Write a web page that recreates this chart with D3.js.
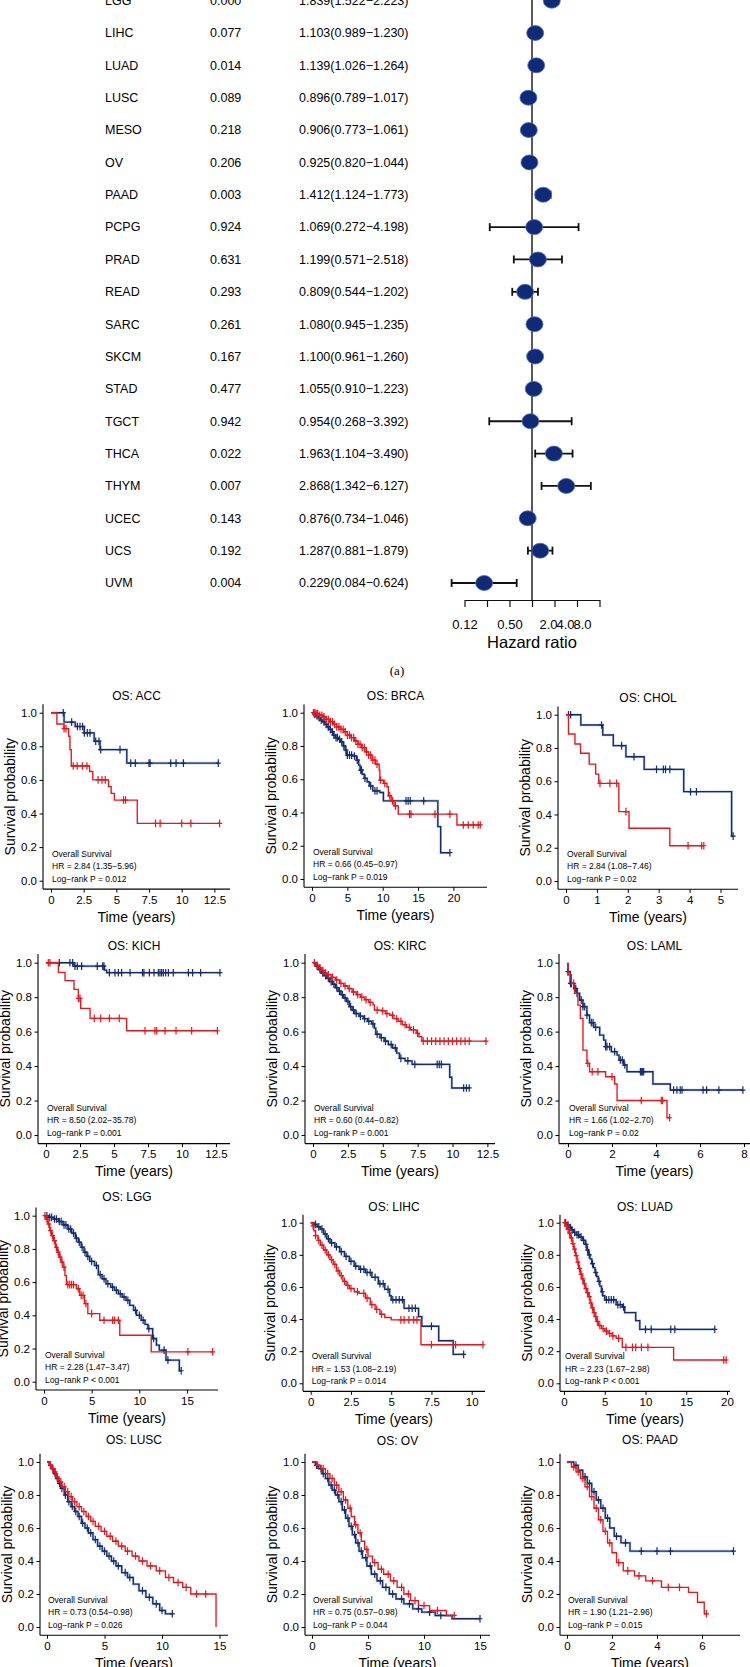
<!DOCTYPE html>
<html><head><meta charset="utf-8">
<script src="https://cdn.jsdelivr.net/npm/d3@7"></script>
<style>body{margin:0;background:#fff} svg{display:block} text{font-family:"Liberation Sans",Arial,Helvetica,sans-serif;fill:#000}</style>
</head><body><svg id="c" width="750" height="1667"></svg>
<script>
// ---------------- Forest plot data ----------------
const forestCancers = ["LGG","LIHC","LUAD","LUSC","MESO","OV","PAAD","PCPG","PRAD","READ","SARC","SKCM","STAD","TGCT","THCA","THYM","UCEC","UCS","UVM"];
const forestP = ["0.000","0.077","0.014","0.089","0.218","0.206","0.003","0.924","0.631","0.293","0.261","0.167","0.477","0.942","0.022","0.007","0.143","0.192","0.004"];
const forestHR = [1.839,1.103,1.139,0.896,0.906,0.925,1.412,1.069,1.199,0.809,1.080,1.100,1.055,0.954,1.963,2.868,0.876,1.287,0.229];
const forestLow = [1.522,0.989,1.026,0.789,0.773,0.820,1.124,0.272,0.571,0.544,0.945,0.961,0.910,0.268,1.104,1.342,0.734,0.881,0.084];
const forestHigh = [2.223,1.230,1.264,1.017,1.061,1.044,1.773,4.198,2.518,1.202,1.235,1.260,1.223,3.392,3.490,6.127,1.046,1.879,0.624];
const forestTicks = [0.125,0.25,0.5,1,2,4,8];
const forestTickLabels = ["0.12","","0.50","","2.0","4.0","8.0"];

// ---------------- Kaplan-Meier panels ----------------
const kmPanels = ["ACC","BRCA","CHOL","KICH","KIRC","LAML","LGG","LIHC","LUAD","LUSC","OV","PAAD"];
const kmHR = ["2.84 (1.35\u22125.96)","0.66 (0.45\u22120.97)","2.84 (1.08\u22127.46)","8.50 (2.02\u221235.78)","0.60 (0.44\u22120.82)","1.66 (1.02\u22122.70)","2.28 (1.47\u22123.47)","1.53 (1.08\u22122.19)","2.23 (1.67\u22122.98)","0.73 (0.54\u22120.98)","0.75 (0.57\u22120.98)","1.90 (1.21\u22122.96)"];
const kmP = ["= 0.012","= 0.019","= 0.02","= 0.001","= 0.001","= 0.02","< 0.001","= 0.014","< 0.001","= 0.026","= 0.044","= 0.015"];
const kmXTicks = [[0,2.5,5,7.5,10,12.5],[0,5,10,15,20],[0,1,2,3,4,5],[0,2.5,5,7.5,10,12.5],[0,2.5,5,7.5,10,12.5],[0,2,4,6,8],[0,5,10,15],[0,2.5,5,7.5,10],[0,5,10,15,20],[0,5,10,15],[0,5,10,15],[0,2,4,6]];
const kmYTicks = [0,0.2,0.4,0.6,0.8,1.0];

// steps: [time, survival after event]; censors: times
const ACC_blue = [[1.0,0.944],[1.85,0.918],[2.55,0.88],[3.3,0.83],[3.75,0.78],[5.8,0.70]];
const ACC_blueCens = [0.94,1.58,2.02,2.22,2.42,2.55,2.78,2.98,3.42,3.67,3.8,5.28,6.1,6.45,7.5,7.58,9.16,9.57,10.13,12.8];
const ACC_red = [[0.45,0.933],[1.0,0.905],[1.35,0.86],[1.45,0.78],[1.55,0.683],[2.95,0.65],[3.2,0.60],[4.4,0.56],[4.6,0.52],[4.85,0.48],[6.6,0.341]];
const ACC_redCens = [1.0,1.15,1.7,2.0,2.4,2.75,3.6,3.9,4.15,5.55,5.7,8.0,8.35,10.0,10.7,12.9];

const BRCA_blue = [[0.3,0.99],[0.6,0.98],[0.9,0.97],[1.2,0.955],[1.5,0.945],[1.8,0.93],[2.1,0.915],[2.4,0.90],[2.7,0.885],[3.0,0.865],[3.3,0.85],[3.7,0.84],[4.0,0.825],[4.4,0.80],[4.7,0.775],[4.9,0.745],[5.8,0.74],[6.3,0.715],[6.6,0.685],[6.8,0.655],[7.1,0.63],[7.4,0.605],[7.8,0.585],[8.1,0.56],[8.6,0.53],[9.6,0.52],[10.1,0.47],[17.8,0.315],[18.2,0.158]];
const BRCA_blueCens = [0.4,0.7,1.0,1.3,1.7,2.0,2.3,2.6,2.9,3.1,3.4,3.6,3.9,4.2,4.5,4.8,5.0,5.3,5.6,6.0,6.4,6.9,7.0,7.5,8.3,8.9,9.2,13.3,13.6,13.9,15.8,19.5];
const BRCA_red = [[0.5,0.995],[1.0,0.985],[1.5,0.975],[2.0,0.96],[2.5,0.945],[3.0,0.93],[3.5,0.915],[4.0,0.90],[4.5,0.885],[5.0,0.865],[5.5,0.85],[6.0,0.83],[6.5,0.81],[7.0,0.79],[7.5,0.765],[8.0,0.745],[8.5,0.715],[9.0,0.69],[9.5,0.655],[9.6,0.595],[10.1,0.575],[10.6,0.555],[10.8,0.50],[11.2,0.47],[11.6,0.44],[12.2,0.39],[20.5,0.325]];
const BRCA_redCens = [0.2,0.4,0.6,0.8,1.1,1.4,1.7,2.0,2.3,2.6,2.9,3.2,3.5,3.8,4.1,4.4,4.7,5.0,5.3,5.6,5.9,6.2,6.5,6.8,7.1,7.4,7.7,8.0,8.3,8.6,8.9,9.2,9.7,10.3,11.0,11.4,11.8,13.8,14.0,17.4,19.5,21.4,22.1,22.8,23.5,23.8];

const CHOL_blue = [[0.48,0.938],[1.19,0.878],[1.53,0.814],[1.94,0.747],[2.53,0.671],[3.81,0.537],[5.36,0.27]];
const CHOL_blueCens = [0.08,0.15,1.15,1.8,2.2,2.93,3.15,3.22,3.36,4.03,4.22,5.41];
const CHOL_red = [[0.08,0.884],[0.29,0.824],[0.47,0.768],[0.75,0.703],[0.96,0.643],[1.06,0.587],[1.71,0.417],[2.04,0.317],[3.36,0.212]];
const CHOL_redCens = [1.1,1.42,1.64,1.94,3.95,4.39,4.46];

const KICH_blue = [[2.06,0.98],[4.29,0.957],[4.46,0.942]];
const KICH_blueCens = [0.98,1.76,1.96,2.13,2.3,2.62,3.77,4.17,4.26,4.66,5.07,5.32,5.56,6.18,7.1,7.2,7.6,7.94,8.26,8.38,8.5,8.63,8.8,9.0,9.36,10.47,10.78,11.37,12.79];
const KICH_red = [[0.91,0.944],[1.4,0.896],[2.06,0.845],[2.38,0.793],[2.55,0.735],[3.24,0.677],[5.93,0.605]];
const KICH_redCens = [0.17,0.29,2.38,2.5,3.55,4.02,4.66,5.39,7.28,8.01,8.14,8.75,9.56,10.71,12.6];

const KIRC_blue = [[0.2,0.98],[0.4,0.96],[0.6,0.94],[0.8,0.925],[1.0,0.91],[1.2,0.89],[1.4,0.875],[1.6,0.855],[1.8,0.835],[2.0,0.815],[2.2,0.795],[2.4,0.775],[2.6,0.745],[2.8,0.725],[3.0,0.705],[3.3,0.69],[3.6,0.675],[3.9,0.66],[4.2,0.645],[4.4,0.62],[4.5,0.585],[4.8,0.565],[5.1,0.545],[5.4,0.525],[5.7,0.505],[6.0,0.475],[6.2,0.445],[6.6,0.43],[7.1,0.41],[9.8,0.335],[9.95,0.273]];
const KIRC_blueCens = [0.3,0.5,0.7,0.9,1.1,1.3,1.5,1.7,1.9,2.1,2.3,2.5,2.7,2.9,3.1,3.4,3.7,4.0,4.3,4.6,4.9,5.2,5.6,5.9,6.3,6.8,7.3,8.9,9.05,9.2,10.8,11.0,11.2];
const KIRC_red = [[0.2,0.985],[0.4,0.97],[0.6,0.955],[0.8,0.94],[1.0,0.93],[1.3,0.915],[1.6,0.90],[1.9,0.88],[2.2,0.865],[2.5,0.85],[2.8,0.83],[3.1,0.815],[3.4,0.80],[3.7,0.785],[4.0,0.77],[4.3,0.755],[4.4,0.725],[4.9,0.72],[5.2,0.705],[5.5,0.695],[5.8,0.675],[6.1,0.66],[6.4,0.64],[6.7,0.625],[7.0,0.61],[7.4,0.59],[7.6,0.57],[7.8,0.545]];
const KIRC_redCens = [0.1,0.3,0.5,0.7,0.9,1.1,1.4,1.7,2.0,2.3,2.6,2.9,3.2,3.5,3.8,4.1,4.6,5.0,5.3,5.7,6.0,6.3,6.6,6.9,7.2,7.5,7.9,8.2,8.5,8.8,9.1,9.4,9.7,10.0,10.3,10.6,10.9,11.2,12.4];

const LAML_blue = [[0.0,0.948],[0.1,0.88],[0.26,0.85],[0.41,0.822],[0.53,0.783],[0.68,0.745],[0.86,0.696],[0.98,0.652],[1.17,0.625],[1.44,0.58],[1.62,0.551],[1.71,0.513],[1.97,0.484],[2.23,0.464],[2.32,0.435],[2.53,0.406],[2.68,0.367],[3.86,0.296],[4.65,0.261]];
const LAML_blueCens = [0.0,0.11,0.15,0.35,0.41,0.6,0.68,0.76,0.86,1.06,1.14,1.26,1.71,1.77,1.89,2.12,2.38,2.47,2.58,3.29,3.33,3.38,3.44,4.8,4.95,5.1,5.18,6.14,6.3,6.86,7.95];
const LAML_red = [[0.0,0.93],[0.15,0.88],[0.3,0.822],[0.45,0.754],[0.56,0.677],[0.68,0.493],[0.86,0.416],[0.98,0.367],[1.71,0.338],[2.12,0.296],[2.23,0.2],[4.5,0.1]];
const LAML_redCens = [0.26,0.9,1.1,1.36,2.0,3.33,4.24,4.3,4.62];

const LGG_blue = [[0.5,0.99],[1.0,0.98],[1.5,0.965],[2.0,0.945],[2.5,0.92],[2.9,0.895],[3.3,0.865],[3.6,0.84],[3.9,0.81],[4.2,0.78],[4.5,0.755],[4.8,0.725],[5.3,0.70],[5.7,0.645],[6.1,0.62],[6.5,0.59],[7.0,0.57],[7.4,0.55],[7.8,0.53],[8.2,0.51],[8.6,0.49],[9.0,0.46],[9.4,0.43],[9.7,0.40],[10.2,0.37],[10.6,0.345],[10.9,0.32],[11.4,0.26],[11.8,0.22],[12.1,0.19],[12.8,0.13],[14.2,0.066]];
const LGG_blueCens = [0.3,0.6,0.8,1.1,1.3,1.6,1.8,2.1,2.3,2.6,2.8,3.1,3.4,3.7,4.0,4.3,4.6,5.0,5.5,5.9,6.3,6.7,7.2,7.6,8.0,8.4,8.8,9.6,10.0,10.4,11.0,11.5,12.6,13.0,14.4];
const LGG_red = [[0.2,0.98],[0.4,0.95],[0.6,0.91],[0.8,0.88],[1.0,0.85],[1.2,0.81],[1.4,0.78],[1.6,0.75],[1.8,0.72],[2.0,0.69],[2.2,0.64],[2.35,0.585],[3.4,0.56],[3.75,0.52],[4.25,0.47],[4.6,0.41],[5.85,0.37],[7.95,0.28],[11.25,0.18]];
const LGG_redCens = [0.1,0.3,0.5,0.7,0.9,1.1,1.3,1.5,1.7,1.9,2.1,2.5,2.7,2.9,3.1,3.6,3.9,4.1,4.4,5.0,6.3,7.2,7.4,7.8,15.1,17.7];

const LIHC_blue = [[0.2,0.99],[0.4,0.975],[0.6,0.96],[0.8,0.93],[1.0,0.90],[1.2,0.875],[1.5,0.85],[1.8,0.82],[2.1,0.79],[2.4,0.76],[2.7,0.73],[3.0,0.71],[3.4,0.69],[3.8,0.66],[4.2,0.62],[4.6,0.585],[4.9,0.545],[5.0,0.52],[5.8,0.467],[6.7,0.415],[6.9,0.355],[7.95,0.265],[8.85,0.18]];
const LIHC_blueCens = [0.3,0.5,0.7,0.9,1.1,1.3,1.6,1.9,2.2,2.5,2.8,3.1,3.3,3.5,3.7,4.0,4.3,4.5,4.8,5.1,5.3,5.5,5.7,6.1,6.3,6.5,7.5,9.5];
const LIHC_red = [[0.1,0.98],[0.2,0.95],[0.3,0.92],[0.45,0.89],[0.6,0.86],[0.8,0.83],[1.0,0.80],[1.2,0.77],[1.4,0.74],[1.6,0.70],[1.8,0.67],[2.0,0.635],[2.2,0.61],[2.4,0.59],[2.7,0.57],[3.0,0.56],[3.4,0.53],[3.7,0.49],[4.0,0.46],[4.3,0.43],[4.6,0.41],[5.0,0.395],[6.85,0.24]];
const LIHC_redCens = [0.15,0.3,0.5,0.7,0.9,1.1,1.3,1.5,1.7,1.9,2.1,2.3,2.5,2.9,3.3,3.5,3.8,4.1,4.4,5.6,5.8,6.1,6.4,6.6,7.5,9.0,10.7];

const LUAD_blue = [[0.3,0.985],[0.6,0.97],[0.9,0.955],[1.2,0.94],[1.5,0.925],[1.9,0.91],[2.3,0.89],[2.6,0.865],[2.8,0.83],[3.0,0.80],[3.2,0.775],[3.4,0.745],[3.6,0.72],[3.8,0.69],[4.0,0.665],[4.2,0.635],[4.4,0.605],[4.6,0.57],[4.75,0.545],[5.0,0.52],[6.4,0.49],[7.15,0.475],[7.45,0.44],[8.8,0.39],[9.3,0.336]];
const LUAD_blueCens = [0.2,0.5,0.8,1.0,1.3,1.6,1.8,2.1,2.4,2.7,2.9,3.1,3.5,3.9,4.3,4.7,5.2,5.5,5.8,6.1,6.6,6.9,7.3,10.0,10.7,13.1,13.6,18.5];
const LUAD_red = [[0.2,0.98],[0.4,0.96],[0.6,0.935],[0.8,0.905],[1.0,0.87],[1.2,0.835],[1.4,0.795],[1.6,0.755],[1.8,0.715],[2.0,0.68],[2.2,0.65],[2.4,0.62],[2.6,0.59],[2.8,0.565],[3.0,0.54],[3.2,0.50],[3.4,0.47],[3.6,0.44],[3.8,0.415],[4.0,0.385],[4.2,0.36],[4.6,0.34],[5.0,0.325],[5.4,0.31],[5.9,0.295],[6.4,0.28],[7.15,0.224],[13.45,0.145]];
const LUAD_redCens = [0.1,0.3,0.5,0.7,0.9,1.1,1.3,1.5,1.7,1.9,2.1,2.3,2.5,2.7,2.9,3.1,3.3,3.5,3.7,3.9,4.1,4.4,4.8,5.2,5.6,6.0,6.7,7.6,8.4,8.8,9.5,10.3,19.6,19.9];

const LUSC_blue = [[0.2,0.98],[0.4,0.96],[0.6,0.93],[0.8,0.90],[1.0,0.87],[1.2,0.84],[1.5,0.80],[1.8,0.76],[2.1,0.73],[2.4,0.70],[2.7,0.67],[3.0,0.63],[3.3,0.60],[3.6,0.57],[4.0,0.53],[4.4,0.49],[4.8,0.46],[5.2,0.43],[5.6,0.40],[6.0,0.37],[6.5,0.33],[7.0,0.30],[7.5,0.26],[8.0,0.22],[8.6,0.18],[9.2,0.14],[9.8,0.10],[10.3,0.08]];
const LUSC_blueCens = [0.3,0.5,0.7,0.9,1.1,1.3,1.6,1.9,2.2,2.5,2.8,3.1,3.5,3.8,4.2,4.6,5.0,5.4,5.8,6.2,6.8,7.2,8.3,8.9,9.5,10.0,10.9];
const LUSC_red = [[0.2,0.98],[0.4,0.96],[0.6,0.94],[0.8,0.91],[1.0,0.88],[1.3,0.85],[1.6,0.82],[1.9,0.79],[2.2,0.76],[2.6,0.73],[3.0,0.70],[3.4,0.67],[3.8,0.64],[4.2,0.61],[4.7,0.58],[5.2,0.55],[5.7,0.52],[6.2,0.49],[6.8,0.46],[7.4,0.43],[8.0,0.40],[8.7,0.37],[9.5,0.34],[10.3,0.30],[11.0,0.27],[11.8,0.24],[12.5,0.20],[14.7,0.0]];
const LUSC_redCens = [0.3,0.5,0.7,0.9,1.2,1.5,1.8,2.1,2.4,2.8,3.2,3.6,4.0,4.5,5.0,5.5,6.0,6.5,7.0,7.7,8.3,9.0,9.8,10.6,11.4,12.1,13.0,13.8];

const OV_blue = [[0.3,0.98],[0.6,0.96],[0.9,0.93],[1.2,0.90],[1.5,0.86],[1.8,0.83],[2.1,0.80],[2.4,0.76],[2.7,0.71],[3.0,0.66],[3.3,0.61],[3.6,0.56],[3.9,0.51],[4.2,0.46],[4.5,0.42],[4.9,0.37],[5.3,0.32],[5.8,0.28],[6.3,0.24],[6.9,0.20],[7.5,0.17],[8.2,0.14],[9.0,0.11],[9.8,0.09],[11.0,0.07],[12.5,0.05]];
const OV_blueCens = [0.4,0.8,1.0,1.4,1.7,2.0,2.3,2.6,2.9,3.2,3.5,3.8,4.1,4.4,4.8,5.2,5.6,6.1,6.6,7.2,8.0,8.7,9.5,10.5,11.5,15.0];
const OV_red = [[0.4,0.98],[0.8,0.96],[1.2,0.93],[1.6,0.90],[2.0,0.86],[2.4,0.82],[2.8,0.77],[3.2,0.72],[3.5,0.67],[3.8,0.62],[4.1,0.57],[4.4,0.52],[4.7,0.47],[5.0,0.43],[5.4,0.39],[5.9,0.35],[6.4,0.32],[7.0,0.28],[7.6,0.24],[8.2,0.20],[8.8,0.16],[9.5,0.13],[10.5,0.10],[12.0,0.07]];
const OV_redCens = [0.5,1.0,1.4,1.8,2.2,2.6,3.0,3.4,3.9,4.3,4.9,5.6,6.2,6.8,7.3,8.0,8.6,9.2,10.0,11.2,12.7];

const PAAD_blue = [[0.3,0.98],[0.5,0.95],[0.7,0.91],[0.9,0.87],[1.1,0.82],[1.3,0.77],[1.5,0.72],[1.7,0.66],[1.9,0.60],[2.1,0.55],[2.4,0.51],[2.8,0.46]];
const PAAD_blueCens = [0.4,0.8,1.0,1.2,1.4,1.6,1.8,2.2,2.6,3.3,4.0,4.6,7.4];
const PAAD_red = [[0.2,0.97],[0.4,0.94],[0.6,0.90],[0.8,0.85],[1.0,0.79],[1.2,0.72],[1.4,0.65],[1.6,0.58],[1.8,0.51],[2.0,0.45],[2.2,0.39],[2.5,0.34],[3.0,0.31],[3.5,0.28],[4.2,0.24],[5.4,0.21],[5.8,0.15],[6.1,0.08]];
const PAAD_redCens = [0.3,0.5,0.7,0.9,1.1,1.3,1.5,1.7,1.9,2.3,2.7,3.2,3.8,4.5,5.0,6.2];

const kmBlue = {ACC:ACC_blue,BRCA:BRCA_blue,CHOL:CHOL_blue,KICH:KICH_blue,KIRC:KIRC_blue,LAML:LAML_blue,LGG:LGG_blue,LIHC:LIHC_blue,LUAD:LUAD_blue,LUSC:LUSC_blue,OV:OV_blue,PAAD:PAAD_blue};
const kmBlueCens = {ACC:ACC_blueCens,BRCA:BRCA_blueCens,CHOL:CHOL_blueCens,KICH:KICH_blueCens,KIRC:KIRC_blueCens,LAML:LAML_blueCens,LGG:LGG_blueCens,LIHC:LIHC_blueCens,LUAD:LUAD_blueCens,LUSC:LUSC_blueCens,OV:OV_blueCens,PAAD:PAAD_blueCens};
const kmRed = {ACC:ACC_red,BRCA:BRCA_red,CHOL:CHOL_red,KICH:KICH_red,KIRC:KIRC_red,LAML:LAML_red,LGG:LGG_red,LIHC:LIHC_red,LUAD:LUAD_red,LUSC:LUSC_red,OV:OV_red,PAAD:PAAD_red};
const kmRedCens = {ACC:ACC_redCens,BRCA:BRCA_redCens,CHOL:CHOL_redCens,KICH:KICH_redCens,KIRC:KIRC_redCens,LAML:LAML_redCens,LGG:LGG_redCens,LIHC:LIHC_redCens,LUAD:LUAD_redCens,LUSC:LUSC_redCens,OV:OV_redCens,PAAD:PAAD_redCens};

// ---------------- layout (pixels) ----------------
const kmLayout = [
  {ax:43, x0:51, u:13.07, y1:712.7, y0:880.7, xr:230, ty:696},
  {ax:304,x0:312,u:7.07, y1:712.7, y0:879, xr:487, ty:696},
  {ax:558,x0:566,u:30.9, y1:714.7, y0:881, xr:738, ty:698},
  {ax:38, x0:46, u:13.6, y1:962.7, y0:1135, xr:230, ty:946},
  {ax:305,x0:313,u:13.95,y1:962.7, y0:1135, xr:495, ty:946},
  {ax:559,x0:568,u:22,   y1:962.7, y0:1135, xr:750, ty:946},
  {ax:36, x0:44, u:9.53, y1:1215.7,y0:1381.7,xr:218, ty:1197},
  {ax:303,x0:310.7,u:16.1,y1:1222.7,y0:1383.3,xr:485, ty:1207},
  {ax:560,x0:564,u:8.15, y1:1222.7,y0:1383.3,xr:730, ty:1207},
  {ax:40, x0:47, u:11.5, y1:1462, y0:1627, xr:228, ty:1440},
  {ax:305,x0:312,u:11.2, y1:1462, y0:1627, xr:490, ty:1441},
  {ax:560,x0:567,u:22.5, y1:1462, y0:1627, xr:740, ty:1440}
];

const BLUE = "#142c6c", BLUE_GLOW = "#86a8d8", RED = "#e8151b";
const svg = d3.select("#c");

// ---------------- Forest plot ----------------
(function(){
  const g = svg.append("g");
  const x = d3.scaleLog().base(2).domain([0.125, 8]).range([464.5, 599.5]);
  const y = d3.scaleLinear().domain([1, 18]).range([33, 583]);
  const axisY = 600;
  const labelX = 105, pX = 210, hrX = 299;
  const fmt = d3.format(".3f");
  g.append("line").attr("x1", x(1)).attr("x2", x(1)).attr("y1", 0).attr("y2", axisY)
    .attr("stroke", "#222").attr("stroke-width", 1.5);
  forestCancers.forEach((c, i) => {
    const yy = y(i);
    g.append("text").attr("x", labelX).attr("y", yy).attr("dy", "0.35em").attr("font-size", 12.5).text(c);
    g.append("text").attr("x", pX).attr("y", yy).attr("dy", "0.35em").attr("font-size", 12.5).text(forestP[i]);
    g.append("text").attr("x", hrX).attr("y", yy).attr("dy", "0.35em").attr("font-size", 12.5)
      .text(fmt(forestHR[i]) + "(" + fmt(forestLow[i]) + "\u2212" + fmt(forestHigh[i]) + ")");
    const xl = x(forestLow[i]), xh = x(forestHigh[i]);
    g.append("line").attr("x1", xl).attr("x2", xh).attr("y1", yy).attr("y2", yy).attr("stroke", "#111").attr("stroke-width", 1.8);
    [xl, xh].forEach(xx => g.append("line").attr("x1", xx).attr("x2", xx).attr("y1", yy - 4).attr("y2", yy + 4).attr("stroke", "#111").attr("stroke-width", 1.8));
    g.append("ellipse").attr("cx", x(forestHR[i])).attr("cy", yy).attr("rx", 8.5).attr("ry", 7.5)
      .attr("fill", "#0f2a78").attr("stroke", "#4d6fb5").attr("stroke-width", 0.8);
  });
  const ax = g.append("g").attr("transform", `translate(0,${axisY})`)
    .call(d3.axisBottom(x).tickValues(forestTicks).tickFormat((d, i) => forestTickLabels[i]).tickSize(7).tickPadding(13).tickSizeOuter(0));
  ax.select(".domain").attr("stroke", "#111").attr("stroke-width", 1.2);
  ax.selectAll(".tick line").attr("stroke", "#111").attr("stroke-width", 1.2);
  // crowded labels on the right are squeezed together as in the original
  const labelShift = {2: -6.5, 4: -12, 8: -17.5};
  ax.selectAll(".tick text").attr("font-size", 13).attr("font-family", '"Liberation Sans",Arial,sans-serif').attr("fill", "#000")
    .attr("dx", d => labelShift[d] || 0);
  g.append("text").attr("x", x(1)).attr("y", 648).attr("text-anchor", "middle").attr("font-size", 16.5).text("Hazard ratio");
  svg.append("text").attr("x", 397).attr("y", 675).attr("text-anchor", "middle")
    .style("font-family", '"Liberation Serif","Times New Roman",serif').attr("font-size", 13).text("(a)");
})();

// ---------------- KM panels ----------------
function survAt(steps, t) {
  let s = 1;
  for (const [tt, ss] of steps) { if (tt <= t) s = ss; else break; }
  return s;
}

kmPanels.forEach((name, i) => {
  const L = kmLayout[i];
  const ticks = kmXTicks[i];
  const last = ticks[ticks.length - 1];
  const x = d3.scaleLinear().domain([0, last]).range([L.x0, L.x0 + L.u * last]);
  const y = d3.scaleLinear().domain([0, 1]).range([L.y0, L.y1]);
  const pad = 0.05 * (L.y0 - L.y1);
  const yBot = L.y0 + pad, yTop = L.y1 - pad;
  const g = svg.append("g");

  const ya = g.append("g").attr("transform", `translate(${L.ax},0)`)
    .call(d3.axisLeft(y).tickValues(kmYTicks).tickFormat(d3.format(".1f")).tickSize(3.5).tickPadding(2.5));
  ya.select(".domain").remove();
  const xa = g.append("g").attr("transform", `translate(0,${yBot})`)
    .call(d3.axisBottom(x).tickValues(ticks).tickFormat(d => String(d)).tickSize(3.5).tickPadding(3));
  xa.select(".domain").remove();
  [ya, xa].forEach(a => {
    a.selectAll(".tick line").attr("stroke", "#000").attr("stroke-width", 1);
    a.selectAll(".tick text").attr("font-size", 11.5).attr("fill", "#000").attr("font-family", '"Liberation Sans",Arial,sans-serif');
  });
  g.append("line").attr("x1", L.ax).attr("x2", L.ax).attr("y1", yTop).attr("y2", yBot).attr("stroke", "#000").attr("stroke-width", 1.1);
  g.append("line").attr("x1", L.ax).attr("x2", L.xr).attr("y1", yBot).attr("y2", yBot).attr("stroke", "#000").attr("stroke-width", 1.1);

  g.append("text").attr("x", (L.ax + L.xr) / 2).attr("y", L.ty).attr("dy", "0.35em").attr("text-anchor", "middle").attr("font-size", 12).text("OS: " + name);
  g.append("text").attr("x", (L.ax + L.xr) / 2).attr("y", L.y0 + 36).attr("dy", "0.35em").attr("text-anchor", "middle").attr("font-size", 14).text("Time (years)");
  g.append("text").attr("transform", `translate(${L.ax - 33},${(L.y0 + L.y1) / 2}) rotate(-90)`).attr("dy", "0.35em")
    .attr("text-anchor", "middle").attr("font-size", 14).text("Survival probability");

  const ann = ["Overall Survival", "HR = " + kmHR[i], "Log\u2212rank P " + kmP[i]];
  ann.forEach((t, k) => g.append("text").attr("x", L.x0 + 1).attr("y", L.y0 - 27 + k * 12.5).attr("dy", "0.35em").attr("font-size", 8.5).text(t));

  const line = d3.line().x(d => x(d[0])).y(d => y(d[1])).curve(d3.curveStepAfter);
  const groups = [
    {steps: kmBlue[name], cens: kmBlueCens[name], color: BLUE, glow: true},
    {steps: kmRed[name], cens: kmRedCens[name], color: RED, glow: false}
  ];
  groups.forEach(G => {
    const lastStep = G.steps[G.steps.length - 1];
    const endT = Math.max(lastStep[0], d3.max(G.cens));
    const pts = [[0, 1]].concat(G.steps);
    pts.push([endT, lastStep[1]]);
    if (G.glow) g.append("path").attr("d", line(pts)).attr("fill", "none").attr("stroke", BLUE_GLOW).attr("stroke-width", 2.6).attr("opacity", 0.55);
    g.append("path").attr("d", line(pts)).attr("fill", "none").attr("stroke", G.color).attr("stroke-width", 1.35);
    G.cens.forEach(t => {
      const cx = x(t), cy = y(survAt(G.steps, t));
      g.append("path").attr("d", `M${cx},${cy - 3.8}V${cy + 3.8}M${cx - 2.5},${cy}H${cx + 2.5}`)
        .attr("stroke", G.color).attr("stroke-width", 1.2).attr("fill", "none");
    });
  });
});
</script></body></html>
